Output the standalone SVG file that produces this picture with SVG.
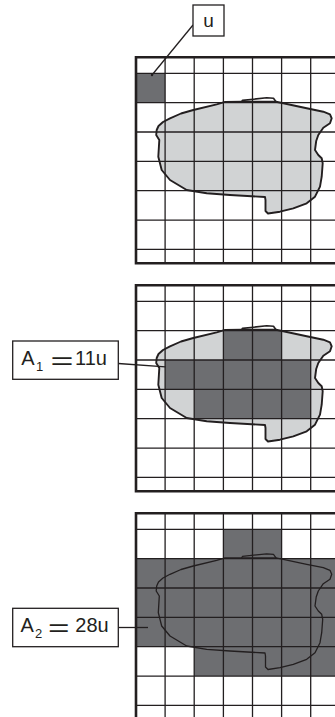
<svg xmlns="http://www.w3.org/2000/svg" xmlns:xlink="http://www.w3.org/1999/xlink" width="335" height="717" viewBox="0 0 335 717">
<style>
.gl{stroke:#231f20;stroke-width:1.3;fill:none}
.bd{stroke:#231f20;stroke-width:2.6;fill:none}
.dk{fill:#6d6e71}
.lt{fill:#d1d3d4}
.ol{fill:none;stroke:#231f20;stroke-linejoin:round;stroke-linecap:round}
.box{fill:#fff;stroke:#231f20;stroke-width:1.3}
.t{font-family:"Liberation Sans",Arial,sans-serif;fill:#231f20}
.cn{stroke:#231f20;stroke-width:1.3;fill:none}
</style>
<defs>
<g id="lines">
<path class="gl" d="M165.1 57.3V263.3M194.2 57.3V263.3M223.4 57.3V263.3M252.5 57.3V263.3M281.6 57.3V263.3M310.7 57.3V263.3M136 73.3H340M136 102.65H340M136 132H340M136 161.35H340M136 190.7H340M136 220.05H340M136 249.4H340"/>
<path class="bd" d="M340 57.3H136V263.3H340"/>
</g>
<path id="blob" d="M156.7 130 L158.5 126 L163 122 L170 118.3 L181 113.5 L193.3 110 L216.7 104.3 L225 101.9 L241.7 101.8 L260 101.8 L276 101.8 L283.3 103.3 L306.7 108.3 L323.3 111.7 L330 114.3 L331.7 118.3 L330 123.3 L323.3 127.7 L318.3 135 L316.2 141 L315 150 L318.3 155 L321.7 158.3 L322.7 163.3 L321.7 176.7 L320 186.7 L315 196.7 L306.7 203.3 L293.3 208.3 L280 211.7 L268 213.5 L265.5 211 L265.5 200 L265 197 L230 195 L206.7 193.3 L186.7 190 L170 180 L161.7 170 L158.3 156.7 L159.3 140 L156.2 135 Z"/>
<path id="tab" d="M241.7 101.8 L242.4 100.4 L266.7 97.8 L273.5 98.3 L276 101.8"/>
</defs>
<rect width="335" height="717" fill="#fff"/>

<g id="grid1">
<use xlink:href="#blob" class="lt"/>
<rect class="dk" x="136" y="73.3" width="29.1" height="29.35"/>
<use xlink:href="#lines"/>
<use xlink:href="#blob" class="ol" stroke-width="1.9"/>
<use xlink:href="#tab" class="ol" stroke-width="1.6"/>
</g>

<g id="grid2" transform="translate(0,228)">
<use xlink:href="#blob" class="lt"/>
<rect class="dk" x="223.4" y="102.65" width="58.2" height="29.35"/>
<rect class="dk" x="165.1" y="132" width="145.6" height="29.35"/>
<rect class="dk" x="194.2" y="161.35" width="116.5" height="29.35"/>
<use xlink:href="#lines"/>
<use xlink:href="#blob" class="ol" stroke-width="1.9"/>
<use xlink:href="#tab" class="ol" stroke-width="1.6"/>
</g>

<g id="grid3" transform="translate(0,456)">
<rect class="dk" x="223.4" y="73.3" width="58.2" height="29.35"/>
<rect class="dk" x="136" y="102.65" width="210" height="88.05"/>
<rect class="dk" x="194.2" y="190.7" width="150" height="29.35"/>
<use xlink:href="#lines"/>
<use xlink:href="#blob" class="ol" stroke-width="1.3"/>
<use xlink:href="#tab" class="ol" stroke-width="1.2"/>
</g>

<g id="connectors">
<path class="cn" d="M193 25 L152 75"/>
<circle cx="152" cy="75" r="1.2" fill="#231f20"/>
<path class="cn" d="M118.3 363.5 L165.5 366.8"/>
<path class="cn" d="M118.3 627.5 L148 627.5"/>
</g>

<g id="label-u">
<rect class="box" x="193" y="5" width="31" height="31"/>
<text class="t" x="208.5" y="26.7" font-size="19" text-anchor="middle">u</text>
</g>

<g id="label-a1">
<rect class="box" x="12.7" y="341" width="105.6" height="38.3"/>
<text class="t" x="21.3" y="365" font-size="20">A<tspan x="36" y="370.5" font-size="13">1</tspan> <tspan x="50.5" y="368.5" font-size="23" textLength="23" lengthAdjust="spacingAndGlyphs">=</tspan> <tspan x="75" y="365">11u</tspan></text>
</g>

<g id="label-a2">
<rect class="box" x="12.7" y="608.3" width="105.6" height="38.4"/>
<text class="t" x="20.5" y="632" font-size="20">A<tspan x="35" y="637.5" font-size="13">2</tspan> <tspan x="48" y="635.5" font-size="23" textLength="21.5" lengthAdjust="spacingAndGlyphs">=</tspan> <tspan x="75.3" y="632">28u</tspan></text>
</g>
</svg>
